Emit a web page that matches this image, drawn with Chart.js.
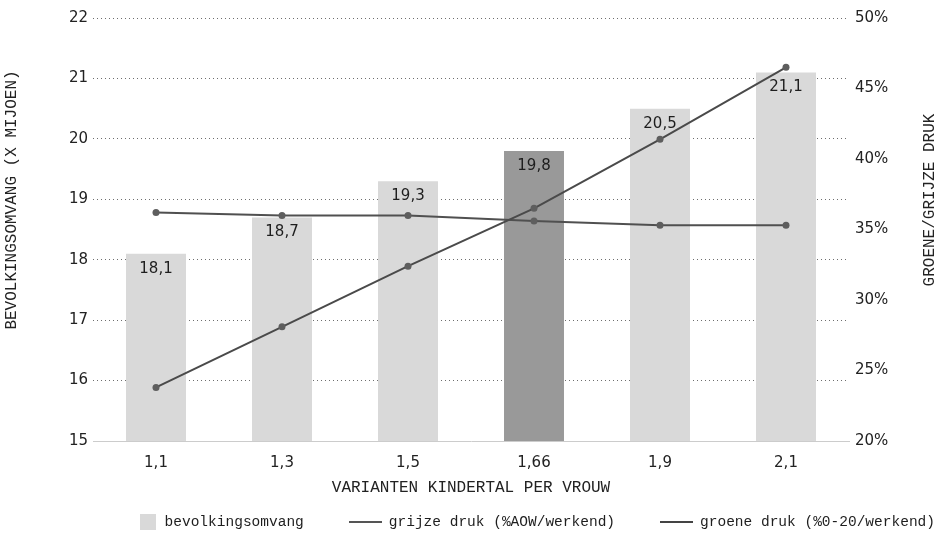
<!DOCTYPE html>
<html lang="nl">
<head>
<meta charset="utf-8">
<title>Bevolkingsomvang en groene/grijze druk per variant kindertal</title>
<script src="https://cdn.jsdelivr.net/npm/chart.js@4.4.1/dist/chart.umd.min.js"></script>
<style>
  html, body { margin: 0; padding: 0; background: #ffffff; }
  #wrap { position: relative; width: 940px; height: 535px; }
  #legend {
    position: absolute; right: 5px; top: 512px; height: 20px;
    display: flex; align-items: center; gap: 45px;
    font-family: "Liberation Mono", "DejaVu Sans Mono", monospace;
    font-size: 14.5px; color: #1e1e1e;
  }
  #legend .item { display: flex; align-items: center; white-space: nowrap; }
  #legend .box { width: 16px; height: 16px; margin-right: 9px; }
  #legend .line { width: 33px; height: 2px; margin-right: 7px; }
</style>
</head>
<body>
<div id="wrap">
  <canvas id="chart" width="940" height="535"></canvas>
  <div id="legend"></div>
</div>
<script>
// Varianten van het kindertal per vrouw
const categories = ['1,1', '1,3', '1,5', '1,66', '1,9', '2,1'];
// Bevolkingsomvang in miljoenen
const bevolking = [18.1, 18.7, 19.3, 19.8, 20.5, 21.1];
// Grijze druk: AOW-gerechtigden als % van werkenden
const grijzeDruk = [23.8, 28.1, 32.4, 36.5, 41.4, 46.5];
// Groene druk: 0-20-jarigen als % van werkenden
const groeneDruk = [36.2, 36.0, 36.0, 35.6, 35.3, 35.3];

const leftTicks = { min: 15, max: 22, step: 1 };
const rightTicks = { min: 20, max: 50, step: 5 };

const tickFont = { family: 'DejaVu Sans', size: 15 };
const textColor = '#222222';
const highlightIndex = 3; // huidige variant (1,66)

const fmt = v => v.toFixed(1).replace('.', ',');

// Waarden boven in de staven
const barValueLabels = {
  id: 'barValueLabels',
  afterDatasetsDraw(chart) {
    const meta = chart.getDatasetMeta(0);
    const ctx = chart.ctx;
    ctx.save();
    ctx.font = '15px "DejaVu Sans"';
    ctx.fillStyle = '#1e1e1e';
    ctx.textAlign = 'center';
    ctx.textBaseline = 'middle';
    meta.data.forEach((bar, i) => {
      ctx.fillText(fmt(chart.data.datasets[0].data[i]), bar.x, bar.y + 15);
    });
    ctx.restore();
  }
};

// Astitels links en rechts, van onder naar boven gelezen
const axisTitles = {
  id: 'axisTitles',
  afterDraw(chart) {
    const ctx = chart.ctx;
    const draw = (text, x, y) => {
      ctx.save();
      ctx.translate(x, y);
      ctx.rotate(-Math.PI / 2);
      ctx.font = '16px "Liberation Mono"';
      ctx.fillStyle = textColor;
      ctx.textAlign = 'center';
      ctx.textBaseline = 'middle';
      ctx.fillText(text, 0, 0);
      ctx.restore();
    };
    draw('BEVOLKINGSOMVANG (X MIJOEN)', 12, 200);
    draw('GROENE/GRIJZE DRUK', 930, 200);
  }
};

const chart = new Chart(document.getElementById('chart'), {
  data: {
    labels: categories,
    datasets: [
      {
        type: 'bar',
        label: 'bevolkingsomvang',
        data: bevolking,
        yAxisID: 'y',
        backgroundColor: bevolking.map((_, i) => i === highlightIndex ? '#999999' : '#d9d9d9'),
        legendColor: '#d9d9d9',
        barPercentage: 0.476,
        categoryPercentage: 1,
        order: 2
      },
      {
        type: 'line',
        label: 'grijze druk (%AOW/werkend)',
        data: grijzeDruk,
        yAxisID: 'y1',
        borderColor: '#4a4a4a',
        backgroundColor: '#5e5e5e',
        borderWidth: 2,
        pointRadius: 3.5,
        pointBorderWidth: 0,
        pointBackgroundColor: '#5e5e5e',
        legendColor: '#555555',
        order: 1
      },
      {
        type: 'line',
        label: 'groene druk (%0-20/werkend)',
        data: groeneDruk,
        yAxisID: 'y1',
        borderColor: '#505050',
        backgroundColor: '#5e5e5e',
        borderWidth: 2,
        pointRadius: 3.5,
        pointBorderWidth: 0,
        pointBackgroundColor: '#5e5e5e',
        legendColor: '#444444',
        order: 1
      }
    ]
  },
  options: {
    responsive: false,
    animation: false,
    layout: { padding: { top: 18, bottom: 34, left: 0, right: 0 } },
    plugins: {
      legend: { display: false },
      tooltip: { enabled: false }
    },
    scales: {
      x: {
        offset: true,
        grid: { display: false },
        border: { display: true, color: '#cccccc', width: 1 },
        ticks: { font: tickFont, color: textColor, padding: 5, maxRotation: 0 },
        title: {
          display: true, text: 'VARIANTEN KINDERTAL PER VROUW',
          font: { family: 'Liberation Mono', size: 16 }, color: textColor,
          padding: { top: 0, bottom: 4 }
        },
        afterFit: s => { s.height = 60; }
      },
      y: {
        position: 'left',
        min: leftTicks.min, max: leftTicks.max,
        ticks: { stepSize: leftTicks.step, font: tickFont, color: textColor, padding: 5 },
        grid: {
          drawTicks: false,
          color: c => c.tick && c.tick.value === leftTicks.min ? 'rgba(0,0,0,0)' : '#6e6e6e',
          lineWidth: 1
        },
        border: { display: false, dash: [1, 3] },
        afterFit: s => { s.width = 93; }
      },
      y1: {
        position: 'right',
        min: rightTicks.min, max: rightTicks.max,
        ticks: {
          stepSize: rightTicks.step, font: tickFont, color: textColor, padding: 6,
          callback: v => v + '%'
        },
        grid: { drawOnChartArea: false, drawTicks: false },
        border: { display: false },
        afterFit: s => { s.width = 91; }
      }
    }
  },
  plugins: [barValueLabels, axisTitles]
});

// Legenda opgebouwd uit de datasets van de grafiek
const legendEl = document.getElementById('legend');
chart.data.datasets.forEach(ds => {
  const item = document.createElement('div');
  item.className = 'item';
  const sw = document.createElement('span');
  sw.className = ds.type === 'bar' ? 'box' : 'line';
  sw.style.background = ds.legendColor;
  const txt = document.createElement('span');
  txt.textContent = ds.label;
  item.appendChild(sw);
  item.appendChild(txt);
  legendEl.appendChild(item);
});
</script>
</body>
</html>
